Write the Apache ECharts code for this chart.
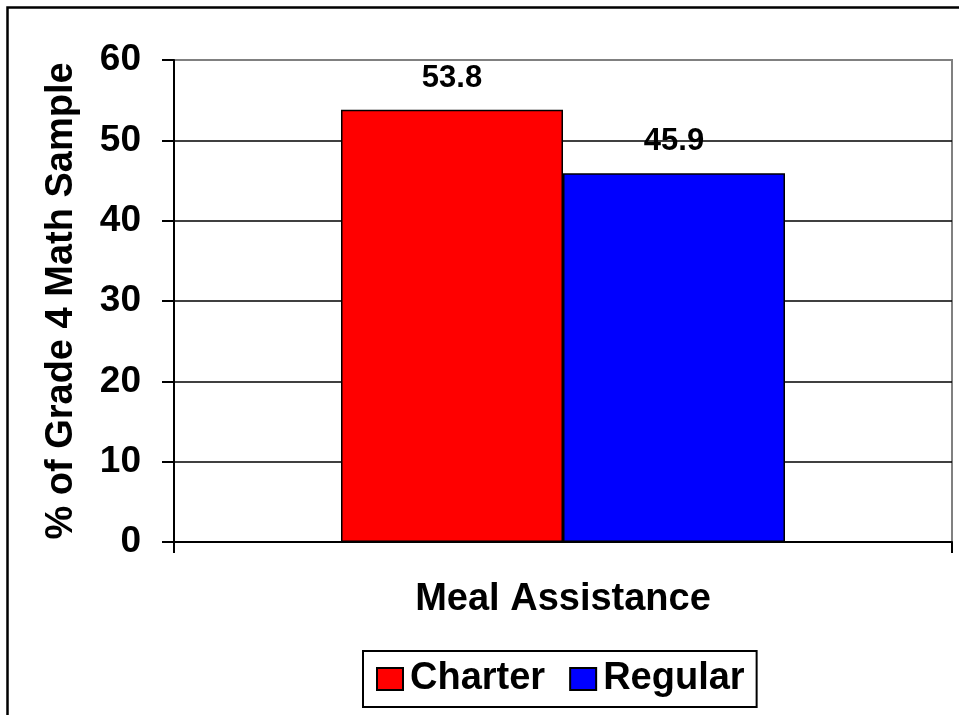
<!DOCTYPE html>
<html>
<head>
<meta charset="utf-8">
<script src="https://cdn.jsdelivr.net/npm/echarts@6/dist/echarts.min.js"></script>
<style>
html,body{margin:0;padding:0;background:#fff;}
#chart{width:959px;height:715px;}
</style>
</head>
<body>
<div id="chart"></div>
<script>
var categories = ['Meal Assistance'];
var seriesNames = ['Charter', 'Regular'];
var charterValues = [53.8];
var regularValues = [45.9];
var yAxisName = '% of Grade 4 Math Sample';

var FONT = 'Liberation Sans, Arial, sans-serif';
var chart = echarts.init(document.getElementById('chart'));
var labelStyle = {
  show: true, position: 'top', distance: 16,
  fontFamily: FONT, fontWeight: 'bold', fontSize: 31, color: '#000'
};
chart.setOption({
  animation: false,
  graphic: [{
    type: 'rect', silent: true,
    shape: {x: 7.5, y: 7.5, width: 1200, height: 1200},
    style: {fill: 'none', stroke: '#000', lineWidth: 2.5}
  }],
  grid: {
    left: 174, top: 60, right: 7, bottom: 173,
    show: true, borderColor: '#808080', borderWidth: 2, backgroundColor: 'transparent'
  },
  legend: {
    data: seriesNames,
    left: 363, top: 651,
    padding: [9, 12, 9, 13],
    itemGap: 24,
    itemWidth: 26, itemHeight: 22,
    icon: 'rect',
    borderColor: '#000', borderWidth: 2,
    backgroundColor: '#fff',
    textStyle: {fontFamily: FONT, fontWeight: 'bold', fontSize: 38, color: '#000', padding: [0, 0, 0, 2]}
  },
  xAxis: {
    type: 'category',
    data: categories,
    axisLine: {lineStyle: {color: '#000', width: 2}},
    axisTick: {show: true, length: 11, lineStyle: {color: '#000', width: 2}},
    axisLabel: {margin: 39, fontFamily: FONT, fontWeight: 'bold', fontSize: 38, color: '#000'}
  },
  yAxis: {
    type: 'value',
    min: 0, max: 60, interval: 10,
    name: yAxisName,
    nameLocation: 'middle',
    nameGap: 93,
    nameRotate: 90,
    nameTextStyle: {fontFamily: FONT, fontWeight: 'bold', fontSize: 38, color: '#000'},
    axisLine: {show: true, lineStyle: {color: '#000', width: 2}},
    axisTick: {show: true, length: 12, lineStyle: {color: '#000', width: 2}},
    axisLabel: {margin: 33, fontFamily: FONT, fontWeight: 'bold', fontSize: 37, color: '#000'},
    splitLine: {show: true, lineStyle: {color: ['#000','#000','#000','#000','#000','#000','#808080'], width: 1.5}}
  },
  series: [
    {
      name: seriesNames[0], type: 'bar', data: charterValues,
      barWidth: 222, barGap: '0%',
      itemStyle: {color: '#ff0000', borderColor: '#000', borderWidth: 1.5},
      label: labelStyle
    },
    {
      name: seriesNames[1], type: 'bar', data: regularValues,
      barWidth: 222, barGap: '0%',
      itemStyle: {color: '#0000ff', borderColor: '#000', borderWidth: 1.5},
      label: labelStyle
    }
  ]
});
</script>
</body>
</html>
